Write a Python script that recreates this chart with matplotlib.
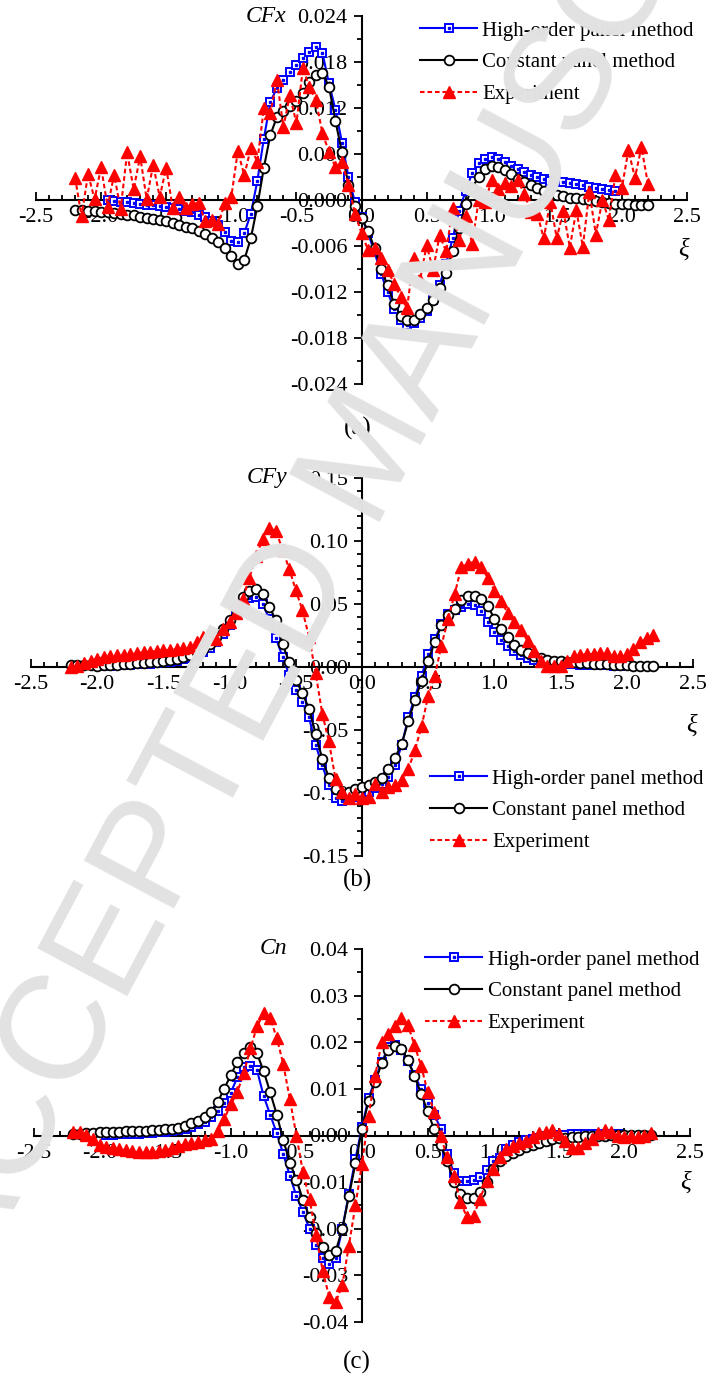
import matplotlib
matplotlib.use("Agg")
import matplotlib.pyplot as plt
from matplotlib.ticker import MultipleLocator, FormatStrFormatter

plt.rcParams['font.family'] = ['Liberation Serif', 'DejaVu Serif']
plt.rcParams['font.size'] = 16
plt.rcParams['axes.unicode_minus'] = False

### x positions (xi)
XI_FULL = [-2.20, -2.15, -2.10, -2.05, -2.00, -1.95, -1.90, -1.85, -1.80, -1.75,
           -1.70, -1.65, -1.60, -1.55, -1.50, -1.45, -1.40, -1.35, -1.30, -1.25,
           -1.20, -1.15, -1.10, -1.05, -1.00, -0.95, -0.90, -0.85, -0.80, -0.75,
           -0.70, -0.65, -0.60, -0.55, -0.50, -0.45, -0.40, -0.35, -0.30, -0.25,
           -0.20, -0.15, -0.10, -0.05, 0.00, 0.05, 0.10, 0.15, 0.20, 0.25,
           0.30, 0.35, 0.40, 0.45, 0.50, 0.55, 0.60, 0.65, 0.70, 0.75,
           0.80, 0.85, 0.90, 0.95, 1.00, 1.05, 1.10, 1.15, 1.20, 1.25,
           1.30, 1.35, 1.40, 1.45, 1.50, 1.55, 1.60, 1.65, 1.70, 1.75,
           1.80, 1.85, 1.90, 1.95, 2.00, 2.05, 2.10, 2.15, 2.20]
XI_HOP = [-1.95, -1.90, -1.85, -1.80, -1.75, -1.70, -1.65, -1.60, -1.55, -1.50,
          -1.45, -1.40, -1.35, -1.30, -1.25, -1.20, -1.15, -1.10, -1.05, -1.00,
          -0.95, -0.90, -0.85, -0.80, -0.75, -0.70, -0.65, -0.60, -0.55, -0.50,
          -0.45, -0.40, -0.35, -0.30, -0.25, -0.20, -0.15, -0.10, -0.05, 0.00,
          0.05, 0.10, 0.15, 0.20, 0.25, 0.30, 0.35, 0.40, 0.45, 0.50,
          0.55, 0.60, 0.65, 0.70, 0.75, 0.80, 0.85, 0.90, 0.95, 1.00,
          1.05, 1.10, 1.15, 1.20, 1.25, 1.30, 1.35, 1.40, 1.45, 1.50,
          1.55, 1.60, 1.65, 1.70, 1.75, 1.80, 1.85, 1.90, 1.95]

### (a) CFx
CFX_HOP = [0.0000, -0.0001, -0.0002, -0.0003, -0.0004, -0.0005, -0.0006, -0.0007, -0.0008, -0.0009,
           -0.0011, -0.0012, -0.0014, -0.0016, -0.0019, -0.0022, -0.0027, -0.0033, -0.0042, -0.0053,
           -0.0055, -0.0043, -0.0018, 0.0025, 0.0080, 0.0128, 0.0146, 0.0157, 0.0167, 0.0176,
           0.0185, 0.0193, 0.0200, 0.0192, 0.0152, 0.0118, 0.0075, 0.0030, -0.0003,
           -0.0022, -0.0043, -0.0068, -0.0096, -0.0120, -0.0142, -0.0157, -0.0163, -0.0161, -0.0154,
           -0.0145, -0.0131, -0.0111, -0.0083, -0.0050, -0.0014, 0.0012, 0.0035, 0.0048, 0.0054,
           0.0056, 0.0054, 0.0050, 0.0045, 0.0041, 0.0037, 0.0033, 0.0030, 0.0027, 0.0025,
           0.0024, 0.0023, 0.0022, 0.0021, 0.0019, 0.0017, 0.0016, 0.0015, 0.0013, 0.0012]
CFX_CST = [-0.0013, -0.0013, -0.0014, -0.0014, -0.0015, -0.0016, -0.0017, -0.0018, -0.0019, -0.0020,
           -0.0022, -0.0023, -0.0025, -0.0026, -0.0028, -0.0030, -0.0032, -0.0035, -0.0037, -0.0040,
           -0.0044, -0.0049, -0.0055, -0.0063, -0.0073,
           -0.0083, -0.0078, -0.0050, -0.0008, 0.0042, 0.0085, 0.0108, 0.0116, 0.0122, 0.0129,
           0.0140, 0.0154, 0.0163, 0.0166, 0.0148, 0.0103, 0.0062, 0.0020, -0.0008,
           -0.0024, -0.0040, -0.0063, -0.0090, -0.0111, -0.0135, -0.0151, -0.0157, -0.0156, -0.0149,
           -0.0141, -0.0130, -0.0115, -0.0095, -0.0066, -0.0036, -0.0005, 0.0016, 0.0030, 0.0040,
           0.0044, 0.0043, 0.0039, 0.0034, 0.0028, 0.0024, 0.0020, 0.0016, 0.0012, 0.0009,
           0.0007, 0.0005, 0.0003, 0.0002, 0.0001, 0.0000, -0.0001, -0.0003, -0.0004, -0.0005,
           -0.0005, -0.0005, -0.0006, -0.0006, -0.0006]
CFX_EXP = [0.0029, -0.0021, 0.0034, 0.0001, 0.0043, -0.0009, 0.0033, -0.0012, 0.0062, 0.0014,
           0.0057, 0.0001, 0.0046, 0.0004, 0.0042, -0.0010, 0.0004, -0.0011, -0.0005, -0.0004,
           -0.0028, -0.0026, -0.0031, -0.0004, 0.0004, 0.0064, 0.0032, 0.0068, 0.0050, 0.0120,
           0.0113, 0.0157, 0.0095, 0.0137, 0.0100, 0.0172, 0.0147, 0.0130, 0.0087, 0.0063,
           0.0043, 0.0049, 0.0020, -0.0018,
           -0.0043, -0.0065, -0.0063, -0.0076, -0.0091, -0.0109, -0.0126, -0.0141, -0.0076, -0.0104,
           -0.0059, -0.0091, -0.0046, -0.0067, -0.0011, -0.0052, -0.0021, -0.0057, 0.0000, -0.0002,
           0.0026, 0.0015, 0.0022, 0.0018, 0.0026, 0.0008, -0.0015, -0.0018, -0.0050, -0.0002,
           -0.0050, -0.0014, -0.0062, -0.0013, -0.0061, 0.0011, -0.0045, 0.0000, -0.0026, 0.0032,
           0.0016, 0.0065, 0.0029, 0.0069, 0.0021]

### (b) CFy
CFY_HOP = [0.0008, 0.0010, 0.0012, 0.0014, 0.0017, 0.0020, 0.0023, 0.0027, 0.0031, 0.0036,
           0.0042, 0.0050, 0.0060, 0.0074, 0.0092, 0.0117, 0.0152, 0.0200, 0.0262, 0.0335,
           0.0420, 0.0500, 0.0550, 0.0555, 0.0500, 0.0380, 0.0230, 0.0080, -0.0060, -0.0180,
           -0.0280, -0.0400, -0.0620, -0.0780, -0.0940, -0.1040, -0.1060, -0.1050, -0.1030,
           -0.1010, -0.0990, -0.0960, -0.0925, -0.0870, -0.0780, -0.0620, -0.0400, -0.0240, -0.0070,
           0.0100, 0.0220, 0.0340, 0.0420, 0.0455, 0.0480, 0.0500, 0.0490, 0.0445, 0.0360,
           0.0280, 0.0215, 0.0165, 0.0125, 0.0095, 0.0072, 0.0055, 0.0043, 0.0035, 0.0030,
           0.0026, 0.0023, 0.0020, 0.0018, 0.0016, 0.0014, 0.0013, 0.0012, 0.0011, 0.0010]
CFY_CST = [0.0016, 0.0015, 0.0013, 0.0012, 0.0011, 0.0012, 0.0014, 0.0017, 0.0020, 0.0027,
           0.0031, 0.0035, 0.0039, 0.0043, 0.0049, 0.0056, 0.0065, 0.0078, 0.0095, 0.0117,
           0.0145, 0.0183, 0.0235, 0.0300, 0.0375,
           0.0470, 0.0553, 0.0605, 0.0620, 0.0580, 0.0480, 0.0370, 0.0180, 0.0040, -0.0100,
           -0.0210, -0.0330, -0.0530, -0.0730, -0.0880, -0.0970, -0.1010, -0.0990, -0.0965,
           -0.0955, -0.0935, -0.0910, -0.0880, -0.0810, -0.0720, -0.0610, -0.0430, -0.0260, -0.0110,
           0.0050, 0.0200, 0.0330, 0.0410, 0.0460, 0.0530, 0.0560, 0.0565, 0.0540, 0.0487,
           0.0380, 0.0300, 0.0235, 0.0175, 0.0135, 0.0110, 0.0088, 0.0068, 0.0052, 0.0047,
           0.0044, 0.0040, 0.0036, 0.0033, 0.0030, 0.0026, 0.0023, 0.0020, 0.0016, 0.0014,
           0.0012, 0.0010, 0.0010, 0.0010, 0.0010]
CFY_EXP = [0.0000, 0.0010, 0.0028, 0.0050, 0.0066, 0.0076, 0.0085, 0.0092, 0.0098, 0.0105,
           0.0112, 0.0117, 0.0122, 0.0127, 0.0132, 0.0137, 0.0143, 0.0150, 0.0162, 0.0196,
           0.0235, 0.0258, 0.0222, 0.0300, 0.0355, 0.0430, 0.0540, 0.0710, 0.0880, 0.1015,
           0.1100, 0.1080, 0.0930, 0.0780, 0.0610, 0.0450, 0.0240, -0.0050, -0.0370, -0.0590,
           -0.0890, -0.0990, -0.1040, -0.1010,
           -0.1040, -0.1030, -0.0930, -0.0990, -0.0950, -0.0940, -0.0900, -0.0810, -0.0660, -0.0470,
           -0.0230, -0.0070, 0.0170, 0.0380, 0.0580, 0.0790, 0.0820, 0.0836, 0.0790, 0.0710,
           0.0606, 0.0526, 0.0430, 0.0355, 0.0290, 0.0210, 0.0130, 0.0050, 0.0010, 0.0005,
           0.0010, 0.0050, 0.0085, 0.0095, 0.0103, 0.0103, 0.0110, 0.0113, 0.0090, 0.0085,
           0.0103, 0.0143, 0.0196, 0.0228, 0.0254]

### (c) Cn
CN_HOP = [0.0002, 0.0002, 0.0003, 0.0003, 0.0004, 0.0004, 0.0005, 0.0006, 0.0007, 0.0008,
          0.0010, 0.0012, 0.0015, 0.0019, 0.0024, 0.0030, 0.0040, 0.0052, 0.0070, 0.0092,
          0.0125, 0.0146, 0.0150, 0.0140, 0.0085, 0.0045, 0.0005, -0.0040, -0.0086, -0.0130,
          -0.0165, -0.0200, -0.0235, -0.0262, -0.0275, -0.0262, -0.0200, -0.0125, -0.0050,
          0.0018, 0.0080, 0.0120, 0.0157, 0.0189, 0.0194, 0.0183, 0.0160, 0.0130, 0.0100,
          0.0070, 0.0045, 0.0015, -0.0040, -0.0080, -0.0097, -0.0098, -0.0096, -0.0090, -0.0075,
          -0.0055, -0.0048, -0.0030, -0.0020, -0.0014, -0.0010, -0.0008, -0.0005, -0.0002, 0.0000,
          0.0001, 0.0002, 0.0003, 0.0003, 0.0004, 0.0004, 0.0004, 0.0004, 0.0004, 0.0004]
CN_CST = [0.0003, 0.0004, 0.0005, 0.0006, 0.0007, 0.0007, 0.0008, 0.0008, 0.0009, 0.0009,
          0.0010, 0.0010, 0.0011, 0.0012, 0.0013, 0.0015, 0.0017, 0.0021, 0.0026, 0.0032,
          0.0040, 0.0051, 0.0072, 0.0100, 0.0130,
          0.0158, 0.0178, 0.0189, 0.0176, 0.0138, 0.0093, 0.0045, -0.0010, -0.0058, -0.0095,
          -0.0138, -0.0175, -0.0210, -0.0240, -0.0257, -0.0248, -0.0200, -0.0130, -0.0060,
          0.0014, 0.0075, 0.0115, 0.0155, 0.0183, 0.0193, 0.0186, 0.0162, 0.0127, 0.0090,
          0.0052, 0.0013, -0.0020, -0.0055, -0.0100, -0.0125, -0.0135, -0.0134, -0.0122, -0.0100,
          -0.0071, -0.0054, -0.0045, -0.0037, -0.0031, -0.0025, -0.0020, -0.0016, -0.0011, -0.0008,
          -0.0006, -0.0005, -0.0004, -0.0003, -0.0002, -0.0001, 0.0000, 0.0000, 0.0001, 0.0001,
          0.0001, 0.0001, 0.0001, 0.0001, 0.0001]
CN_EXP = [0.0008, 0.0007, 0.0002, -0.0008, -0.0020, -0.0024, -0.0027, -0.0029, -0.0032, -0.0034,
          -0.0036, -0.0036, -0.0036, -0.0034, -0.0032, -0.0027, -0.0022, -0.0019, -0.0017, -0.0014,
          -0.0010, -0.0008, 0.0010, 0.0035, 0.0067, 0.0093, 0.0135, 0.0187, 0.0234, 0.0262,
          0.0251, 0.0210, 0.0153, 0.0078, 0.0000, -0.0079, -0.0136, -0.0214, -0.0290, -0.0346,
          -0.0357, -0.0321, -0.0236, -0.0150,
          -0.0061, 0.0042, 0.0128, 0.0200, 0.0217, 0.0235, 0.0251, 0.0237, 0.0194, 0.0150,
          0.0094, 0.0050, -0.0002, -0.0047, -0.0086, -0.0143, -0.0175, -0.0172, -0.0136, -0.0097,
          -0.0072, -0.0047, -0.0029, -0.0022, -0.0016, -0.0011, -0.0004, 0.0005, 0.0007, 0.0012,
          0.0003, -0.0011, -0.0027, -0.0027, -0.0016, -0.0008, 0.0005, 0.0012, 0.0007, 0.0000,
          -0.0004, -0.0002, -0.0004, -0.0002, 0.0005]

LABELS = ["High-order panel method", "Constant panel method", "Experiment"]

W, H = 708, 1378


def fx(px):
    return px / W


def fy(py):
    return 1 - py / H


def plot_panel(ax, hop, cst, exp):
    l1, = ax.plot(XI_HOP, hop, '-', color='blue', lw=1.5, marker='s', ms=6,
                  mfc='white', mec='blue', mew=1.4, zorder=3, clip_on=False)
    d1, = ax.plot(XI_HOP, hop, 's', color='blue', ms=1.8, zorder=3.1, clip_on=False)
    l2, = ax.plot(XI_FULL, cst, '-', color='black', lw=1.5, marker='o', ms=7,
                  mfc='white', mec='black', mew=1.3, zorder=4, clip_on=False)
    l3, = ax.plot(XI_FULL, exp, color='red', lw=1.5, ls=(0, (2.2, 1.4)), marker='^',
                  ms=8, mfc='red', mec='red', zorder=5, clip_on=False)
    return [(l1, d1), l2, l3]


def style_axis(ax, ylim, major, minor, fmt, ylab):
    ax.set_xlim(-2.5, 2.5)
    ax.set_ylim(-ylim, ylim)
    ax.patch.set_alpha(0)
    for s in ('top', 'right'):
        ax.spines[s].set_visible(False)
    for s in ('left', 'bottom'):
        ax.spines[s].set_position(('data', 0))
        ax.spines[s].set_linewidth(1.5)
    ax.xaxis.set_major_locator(MultipleLocator(0.5))
    ax.xaxis.set_minor_locator(MultipleLocator(0.1))
    ax.yaxis.set_major_locator(MultipleLocator(major))
    ax.yaxis.set_minor_locator(MultipleLocator(minor))
    ax.xaxis.set_major_formatter(FormatStrFormatter('%.1f'))
    ax.yaxis.set_major_formatter(FormatStrFormatter(fmt))
    ax.tick_params(axis='x', which='both', direction='in', width=1.3, pad=6, labelsize=16)
    ax.tick_params(axis='y', which='both', direction='out', width=1.3, pad=4, labelsize=16)
    ax.tick_params(which='major', length=6)
    ax.tick_params(which='minor', length=3.5)
    ax.annotate(ylab, xy=(0, ylim), xytext=(-54, 0), textcoords='offset points',
                ha='right', va='center', fontsize=17, style='italic')


fig = plt.figure(figsize=(7.08, 13.78), dpi=100)

axa = fig.add_axes([fx(36), fy(384), (687 - 36) / W, (384 - 16) / H])
axb = fig.add_axes([fx(31), fy(856), (693 - 31) / W, (856 - 478) / H])
axc = fig.add_axes([fx(34), fy(1322), (690 - 34) / W, (1322 - 949) / H])

ha = plot_panel(axa, CFX_HOP, CFX_CST, CFX_EXP)
hb = plot_panel(axb, CFY_HOP, CFY_CST, CFY_EXP)
hc = plot_panel(axc, CN_HOP, CN_CST, CN_EXP)

style_axis(axa, 0.024, 0.006, 0.003, '%.3f', 'CFx')
style_axis(axb, 0.15, 0.05, 0.01, '%.2f', 'CFy')
style_axis(axc, 0.04, 0.01, 0.005, '%.2f', 'Cn')

leg_kw = dict(frameon=False, fontsize=15, handlelength=2.75, handletextpad=0.25,
              labelspacing=0.58, borderpad=0, borderaxespad=0, numpoints=1,
              loc='upper left', bbox_transform=fig.transFigure)
axa.legend(ha, LABELS, bbox_to_anchor=(fx(420), fy(21)), **leg_kw)
axb.legend(hb, LABELS, bbox_to_anchor=(fx(430), fy(769)), **leg_kw)
axc.legend(hc, LABELS, bbox_to_anchor=(fx(425), fy(950)), **leg_kw)

# xi labels and captions
for (px, py) in [(684, 250), (692, 726), (686, 1183)]:
    fig.text(fx(px), fy(py), 'ξ', ha='center', va='center', fontsize=18, style='italic')
for (px, py, t) in [(358, 428, '(a)'), (357, 880, '(b)'), (357, 1362, '(c)')]:
    fig.text(fx(px), fy(py), t, ha='center', va='center', fontsize=18)

# watermark
fig.text(fx(372), fy(456), 'ACCEPTED MANUSCRIPT', rotation=62, rotation_mode='anchor',
         ha='center', va='center', fontsize=107, color='#e2e2e2',
         family=['Liberation Sans', 'DejaVu Sans'], zorder=10)

fig.savefig('out.png', dpi=100)
